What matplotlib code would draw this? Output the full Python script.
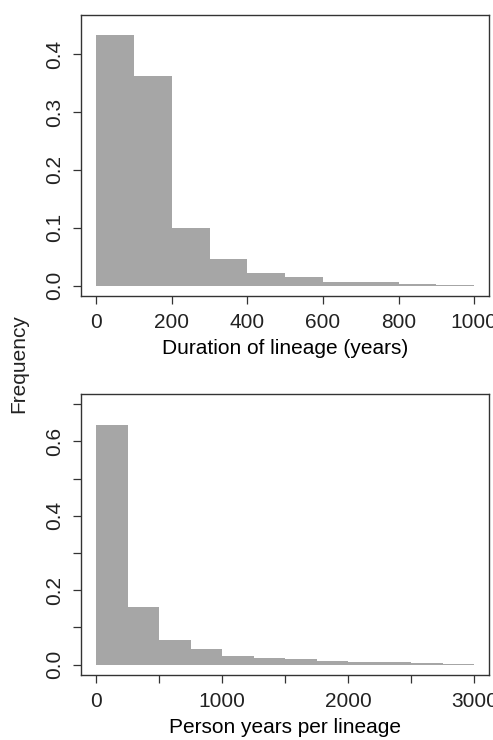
import numpy as np
import matplotlib
matplotlib.use("Agg")
import matplotlib.pyplot as plt

# duration of lineage (years), bin width 100
dur_edges = [0, 100, 200, 300, 400, 500, 600, 700, 800, 900, 1000]
dur_freq = [0.433, 0.362, 0.100, 0.046, 0.022, 0.015, 0.006, 0.006, 0.0035, 0.0012]

# person years per lineage, bin width 250
py_edges = [0, 250, 500, 750, 1000, 1250, 1500, 1750, 2000, 2250, 2500, 2750, 3000]
py_freq = [0.643, 0.154, 0.066, 0.042, 0.023, 0.018, 0.014, 0.010, 0.006, 0.006, 0.0045, 0.002]

dur_xticks = [0, 200, 400, 600, 800, 1000]
dur_yticks = [0.0, 0.1, 0.2, 0.3, 0.4]
py_xticks = [0, 500, 1000, 1500, 2000, 2500, 3000]
py_xlabels = ["0", "", "1000", "", "2000", "", "3000"]
py_yticks = [0.0, 0.1, 0.2, 0.3, 0.4, 0.5, 0.6, 0.7]
py_ylabels = ["0.0", "", "0.2", "", "0.4", "", "0.6", ""]

plt.rcParams['font.family'] = ['Liberation Sans', 'DejaVu Sans']
plt.rcParams['font.size'] = 15
plt.rcParams['text.color'] = '#222222'

BAR = '#a6a6a6'
LINE = '#333333'

fig = plt.figure(figsize=(4.93, 7.40), dpi=100)


def hist_panel(rect, edges, freq, xticks, xlabels, yticks, ylabels, xlim, ylim, xlabel):
    ax = fig.add_axes(rect)
    edges = np.array(edges)
    ax.bar(edges[:-1], freq, width=np.diff(edges), align='edge', color=BAR, linewidth=0)
    ax.set_xlim(*xlim)
    ax.set_ylim(*ylim)
    ax.set_xticks(xticks)
    ax.set_xticklabels(xlabels)
    ax.set_yticks(yticks)
    ax.set_yticklabels(ylabels, rotation=90, va='center')
    ax.tick_params(direction='out', length=6, width=0.9, color=LINE, pad=6, labelcolor='#222222')
    for s in ax.spines.values():
        s.set_color(LINE)
        s.set_linewidth(1.0)
    ax.set_xlabel(xlabel, labelpad=5)
    return ax


hist_panel([0.1643, 0.600, 0.8283, 0.380], dur_edges, dur_freq,
           dur_xticks, [str(t) for t in dur_xticks], dur_yticks, [f"{t:.1f}" for t in dur_yticks],
           (-40, 1040), (-0.018, 0.468), "Duration of lineage (years)")

hist_panel([0.1643, 0.0878, 0.8283, 0.380], py_edges, py_freq,
           py_xticks, py_xlabels, py_yticks, py_ylabels,
           (-120, 3120), (-0.028, 0.728), "Person years per lineage")

fig.text(0.0385, 1 - 364 / 740, "Frequency", rotation=90, ha='center', va='center')

fig.savefig("out.png", dpi=100)
